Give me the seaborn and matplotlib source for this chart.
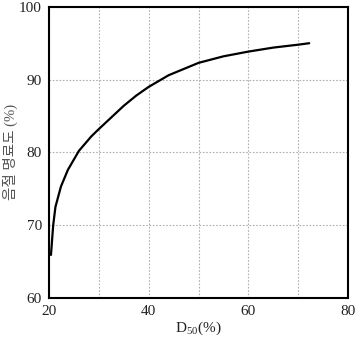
import matplotlib
matplotlib.use("Agg")
import matplotlib.pyplot as plt
import seaborn as sns
import pandas as pd

# ------------------ Data ------------------
d50 = [20.4, 20.85, 21.3, 22.4, 23.8, 26.0, 28.5, 30.0, 32.5, 35.0, 37.5,
       40.0, 44.0, 50.0, 55.0, 60.0, 65.0, 70.0, 72.2]
clarity = [65.9, 70.0, 72.5, 75.3, 77.6, 80.2, 82.2, 83.2, 84.8, 86.4, 87.8,
           89.0, 90.6, 92.3, 93.2, 93.85, 94.4, 94.8, 95.0]
x_ticks = [20, 40, 60, 80]
y_ticks = [60, 70, 80, 90, 100]

df = pd.DataFrame({"d50": d50, "clarity": clarity})

sns.set_style("white")
plt.rcParams['font.family'] = ['Liberation Serif', 'Noto Sans CJK KR']
plt.rcParams['mathtext.fontset'] = 'custom'
plt.rcParams['mathtext.rm'] = 'Liberation Serif'

fig = plt.figure(figsize=(3.6, 3.42), dpi=100)
ax = fig.add_axes([0.136, 0.129, 0.831, 0.851])

sns.lineplot(data=df, x="d50", y="clarity", color="black", linewidth=1.6, ax=ax)

ax.set_xlim(20, 80)
ax.set_ylim(60, 100)
ax.set_xticks(x_ticks)
ax.set_yticks(y_ticks)
ax.set_xticks([30, 50, 70], minor=True)
ax.grid(True, which="both", color="#b0b0b0", linestyle=(0, (1.5, 1.5)), linewidth=0.8)
ax.tick_params(axis="both", which="both", length=0, labelsize=11, pad=5, labelcolor="#222222")

for s in ax.spines.values():
    s.set_color("black")
    s.set_linewidth(1.5)

ax.set_xlabel(r"D$_{\mathregular{50}}$(%)", fontsize=11, labelpad=1, color="#222222")
ax.set_ylabel("음절 명료도 (%)", fontsize=10.5, color="#555555")
ax.yaxis.set_label_coords(-0.105, 0.5)

fig.savefig("out.png", dpi=100)
